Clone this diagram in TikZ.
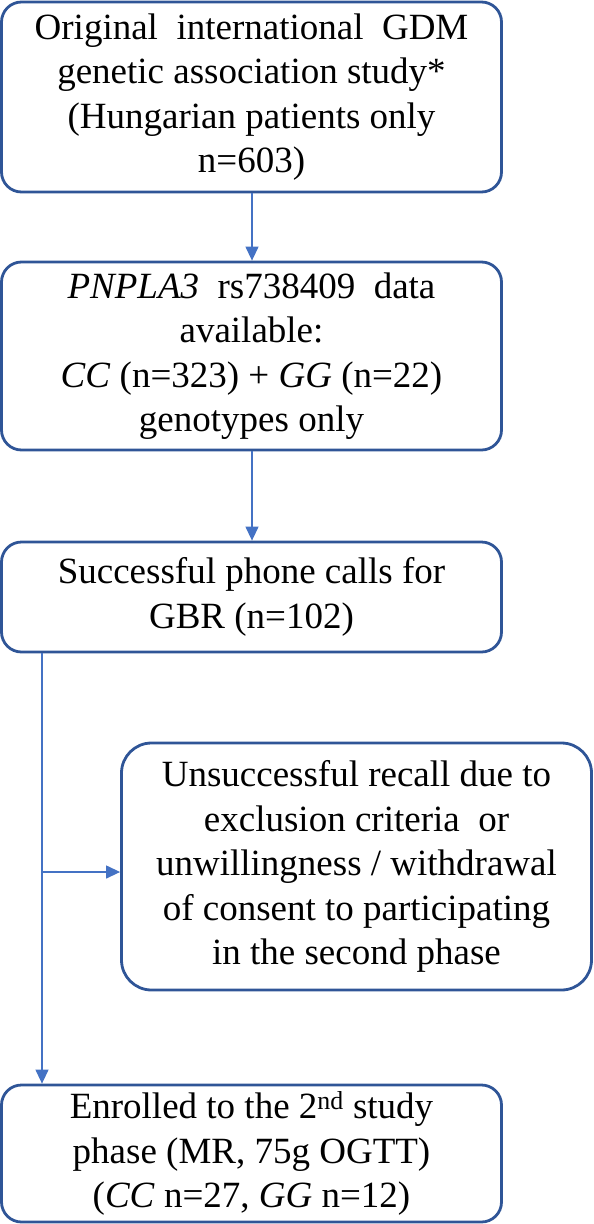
\documentclass[tikz,border=0pt]{standalone}
\usepackage{fontspec}
\setmainfont{Liberation Serif}
\usetikzlibrary{arrows.meta}
\definecolor{boxblue}{HTML}{2F5597}
\definecolor{arrblue}{HTML}{4472C4}
\tikzset{
  flowbox/.style={draw=boxblue, line width=2.8pt, rounded corners=20pt, align=center,
    inner sep=0pt, font=\fontsize{37}{44.5}\selectfont},
  arr/.style={draw=arrblue, line width=1.3pt, -{Triangle[width=13pt,length=14pt]}}
}
\begin{document}
\begin{tikzpicture}[x=1pt,y=-1pt]
\useasboundingbox (0,0) rectangle (594,1224);
\node[flowbox, minimum width=500pt, minimum height=190pt] (b1) at (251.5,97)
  {Original\ \ international\ \ GDM\\genetic association study*\\(Hungarian patients only\\n=603)};
\node[flowbox, minimum width=500pt, minimum height=188pt] (b2) at (251.5,356)
  {\textit{PNPLA3}\ \ rs738409\ \ data\\available:\\\textit{CC} (n=323) + \textit{GG} (n=22)\\genotypes only};
\node[flowbox, minimum width=500pt, minimum height=110pt] (b3) at (251.5,597)
  {Successful phone calls\ for\\GBR (n=102)};
\node[flowbox, rounded corners=30pt, minimum width=470pt, minimum height=247pt] (b4) at (356.5,866.5)
  {Unsuccessful recall\ due to\\exclusion criteria\ \ or\\unwillingness / withdrawal\\of consent to participating\\in the second phase};
\node[flowbox, minimum width=500pt, minimum height=137pt] (b5) at (251.5,1153.5)
  {Enrolled\ to the 2\textsuperscript{nd} study\\phase (MR, 75g OGTT)\\(\textit{CC} n=27, \textit{GG} n=12)};
\coordinate (trunktop) at (42,652);
\coordinate (branch) at (42,872);
\draw[arr] (b1.south -| 252,0) -- (b2.north -| 252,0);
\draw[arr] (b2.south -| 252,0) -- (b3.north -| 252,0);
\draw[arr] (b3.south -| trunktop) -- (b5.north -| trunktop);
\draw[arr] (branch) -- (branch -| b4.west);
\end{tikzpicture}
\end{document}
